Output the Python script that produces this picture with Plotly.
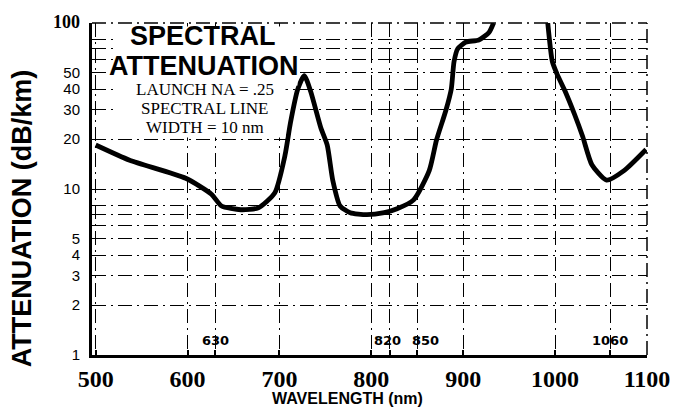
import plotly.graph_objects as go

# ---- data ----
wavelength_nm = [500, 537, 598, 626, 637, 658, 677, 695, 706, 712,
                 720, 727, 734, 745, 752, 758, 766, 777, 795, 814,
                 828, 846, 863, 871, 881, 887, 890, 894, 903, 917,
                 928, 933, None, 992, 997, 1002, 1011, 1021, 1030, 1040,
                 1056, 1075, 1099]
attenuation_db_km = [18.4, 14.9, 11.6, 9.3, 7.9, 7.5, 7.7, 9.5, 15.9, 25.1,
                     40, 48.2, 38.7, 23.4, 18.4, 11.3, 7.9, 7.2, 7.0, 7.2,
                     7.6, 8.6, 12.9, 19.8, 29.6, 40, 58.5, 70, 76.8, 79,
                     87.7, 100, None, 100, 58.5, 49.4, 38.7, 28.3, 20.7, 14.0,
                     11.3, 12.9, 17.3]

x_tickvals = [500, 600, 630, 700, 800, 820, 850, 900, 1000, 1060, 1100]
x_ticktext = ["500", "600", "", "700", "800", "", "", "900", "1000", "", "1100"]
marked_wavelengths = [630, 820, 850, 1060]
marked_label_shift = [0, -2, 8, 0]

y_tickvals = [1, 2, 3, 4, 5, 6, 7, 8, 10, 20, 30, 40, 50, 60, 70, 80, 100]
y_ticktext = ["1", "2", "3", "4", "5", "", "", "", "10", "20", "30", "40", "50",
              "", "", "", "<span style='font-family:Liberation Serif;font-size:18px'><b>100</b></span>"]

note_lines = ["LAUNCH NA = .25", "SPECTRAL LINE", "WIDTH = 10 nm"]

# ---- figure ----
W, H = 682, 407
L, R, T, B = 92, 29, 22, 52
pw, ph = W - L - R, H - T - B


def px(x):
    return (x - L) / pw


def py(y):
    return (H - B - y) / ph


fig = go.Figure()
fig.add_trace(go.Scatter(
    x=wavelength_nm, y=attenuation_db_km, mode="lines",
    line=dict(color="black", width=4.8, shape="spline", smoothing=0.6),
    connectgaps=False, showlegend=False, hoverinfo="skip"))

grid_dash = "14px,5px,2px,5px"
fig.update_layout(
    width=W, height=H, autosize=False,
    margin=dict(l=L, r=R, t=T, b=B, pad=0),
    paper_bgcolor="white", plot_bgcolor="white",
    xaxis=dict(range=[496, 1100], tickmode="array", tickvals=x_tickvals,
               ticktext=x_ticktext, showgrid=True, gridcolor="black",
               gridwidth=1, griddash=grid_dash, showline=True,
               linecolor="black", linewidth=3, ticks="inside", ticklen=5,
               tickwidth=1.5, tickcolor="black", zeroline=False,
               tickfont=dict(family="Liberation Serif", size=24,
                             color="black", weight="bold"),
               ticklabelstandoff=0),
    yaxis=dict(type="log", range=[0, 2], tickmode="array", tickvals=y_tickvals,
               ticktext=y_ticktext, showgrid=True, gridcolor="black",
               gridwidth=1, griddash=grid_dash, showline=True,
               linecolor="black", linewidth=3, ticks="", zeroline=False,
               tickfont=dict(family="Liberation Sans", size=15, color="black"),
               ticklabelstandoff=6),
)

# dashed right and top borders of the frame
fig.add_shape(type="line", xref="paper", yref="paper", x0=1, x1=1, y0=0, y1=1,
              line=dict(color="black", width=1.5, dash=grid_dash), layer="above")
fig.add_shape(type="line", xref="paper", yref="paper", x0=0, x1=1, y0=1, y1=1,
              line=dict(color="black", width=1.5, dash=grid_dash), layer="above")

# white panels behind the title block (kept clear of the curve)
fig.add_annotation(text="&nbsp;", xref="paper", yref="paper",
                   x=px(207), y=py(55), xanchor="center", yanchor="middle",
                   width=182, height=58, bgcolor="white", borderpad=0,
                   showarrow=False, font=dict(size=10))
fig.add_annotation(text="&nbsp;", xref="paper", yref="paper",
                   x=px(201), y=py(110), xanchor="center", yanchor="middle",
                   width=170, height=52, bgcolor="white", borderpad=0,
                   showarrow=False, font=dict(size=10))

# title block
fig.add_annotation(text="<b>SPECTRAL</b>", xref="paper", yref="paper",
                   x=px(204), y=py(35), xanchor="center", yanchor="middle",
                   showarrow=False,
                   font=dict(family="Liberation Sans", size=27, color="black"))
fig.add_annotation(text="<b>ATTENUATION</b>", xref="paper", yref="paper",
                   x=px(205), y=py(65), xanchor="center", yanchor="middle",
                   showarrow=False,
                   font=dict(family="Liberation Sans", size=27, color="black"))
for line, ypix in zip(note_lines, [89, 108, 127]):
    fig.add_annotation(text=line, xref="paper", yref="paper",
                       x=px(206), y=py(ypix), xanchor="center", yanchor="middle",
                       showarrow=False,
                       font=dict(family="Liberation Serif", size=17, color="black"))

# marked wavelength labels inside plot
for wl, sh in zip(marked_wavelengths, marked_label_shift):
    fig.add_annotation(text="<b>%d</b>" % wl, x=wl, xref="x", yref="paper",
                       y=py(340), xanchor="center", yanchor="middle", xshift=sh,
                       showarrow=False,
                       font=dict(family="DejaVu Sans", size=13, color="black"))

# axis titles
fig.add_annotation(text="<b>ATTENUATION (dB/km)</b>", xref="paper", yref="paper",
                   x=px(22), y=py(218), xanchor="center", yanchor="middle",
                   textangle=-90, showarrow=False,
                   font=dict(family="Liberation Sans", size=27, color="black"))
fig.add_annotation(text="<b>WAVELENGTH (nm)</b>", xref="paper", yref="paper",
                   x=px(350), y=py(399), xanchor="center", yanchor="middle",
                   showarrow=False,
                   font=dict(family="Liberation Sans", size=16, color="black"))

fig.write_html("out.html")
